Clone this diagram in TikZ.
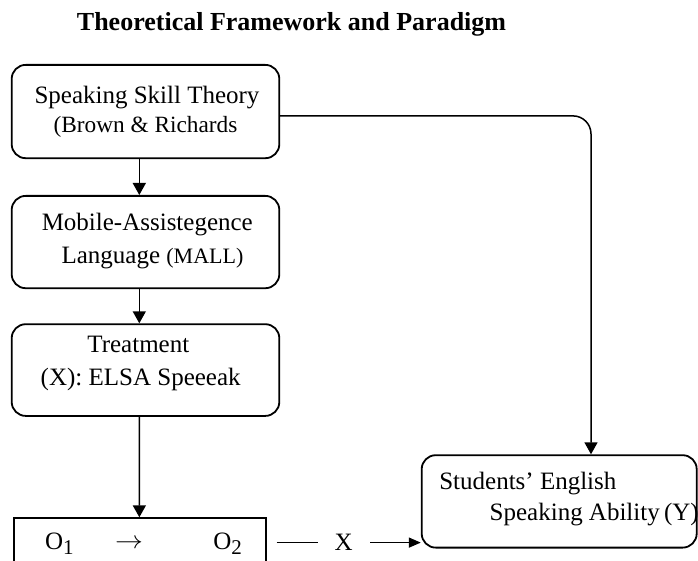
\documentclass[tikz,border=0pt]{standalone}
\usepackage{fontspec}
\setmainfont{Liberation Serif}
\usetikzlibrary{arrows.meta}
\newcommand{\osub}[1]{\raisebox{-5pt}{\fontsize{21}{21}\selectfont #1}}
\begin{document}
\begin{tikzpicture}[x=1pt,y=-1pt,
  rbox/.style={draw, line width=1.8pt, rounded corners=14pt, inner sep=0pt,
    text width=267.6pt, align=flush center, anchor=north},
  conn/.style={line width=1.5pt, -{Triangle[length=12pt,width=13pt]}},
  body/.style={font=\fontsize{25}{30}\selectfont}]
\useasboundingbox (0,0) rectangle (698,561);
\fill[white] (0,0) rectangle (698,561);
\clip (0,0) rectangle (698,561);

\node[font=\bfseries\fontsize{26}{30}\selectfont, anchor=base] (title) at (291.5,30.7)
  {Theoretical Framework and Paradigm};

\node[rbox, text height=38.3pt, text depth=55pt, font=\fontsize{25}{29.4}\selectfont] (b1) at (145.5,64)
  {\hspace*{3pt}Speaking Skill Theory\\{\fontsize{23.3}{29.4}\selectfont(Brown \& Richards}};

\node[rbox, text height=35pt, text depth=57.3pt, font=\fontsize{25}{32.3}\selectfont] (b2) at (145.5,195)
  {\hspace*{3.6pt}Mobile-Assistegence\\\hspace*{14pt}Language {\fontsize{22}{32.3}\selectfont(MALL)}};

\node[rbox, text height=28.4pt, text depth=63.3pt, font=\fontsize{25}{33.3}\selectfont] (b3) at (145.5,323.3)
  {\hspace*{-14.4pt}Treatment\\\hspace*{-9.6pt}(X): ELSA Speeeak};

\node[draw, line width=1.8pt, inner sep=0pt, text width=251.7pt, align=flush left, anchor=north,
  text height=31.7pt, text depth=30pt, body] (ob) at (139.85,517.3)
  {\hspace*{31pt}\makebox[70pt][l]{O\osub{1}}\makebox[98.3pt][l]{\raisebox{1pt}{\scalebox{1.12}[1]{$\rightarrow$}}}O\osub{2}};

\node[rbox, text width=275pt, align=flush left, text height=34pt, text depth=58.4pt,
  font=\fontsize{25}{31.7}\selectfont] (s) at (559.2,454.3)
  {\hspace*{17.6pt}\mbox{Students' English}\\\hspace*{68pt}\mbox{Speaking Ability\,(Y)}};

\draw[conn] ([xshift=-6.2pt]b1.south) -- ([xshift=-6.2pt]b2.north);
\draw[conn] ([xshift=-6.2pt]b2.south) -- ([xshift=-6.2pt]b3.north);
\draw[conn] ([xshift=-6.2pt]b3.south) -- ([xshift=-0.5pt]ob.north);
\draw[conn, rounded corners=18pt] ([yshift=-4.35pt]b1.east) -| ([xshift=31.8pt]s.north);
\draw[line width=1.5pt, -{Triangle[length=12pt,width=10pt]}, shorten <=10pt]
  ([yshift=6.45pt]ob.east) -- node[fill=white, inner xsep=17pt, inner ysep=2pt, body] (xl) {X}
  ([yshift=-41.2pt]s.west);
\end{tikzpicture}
\end{document}
